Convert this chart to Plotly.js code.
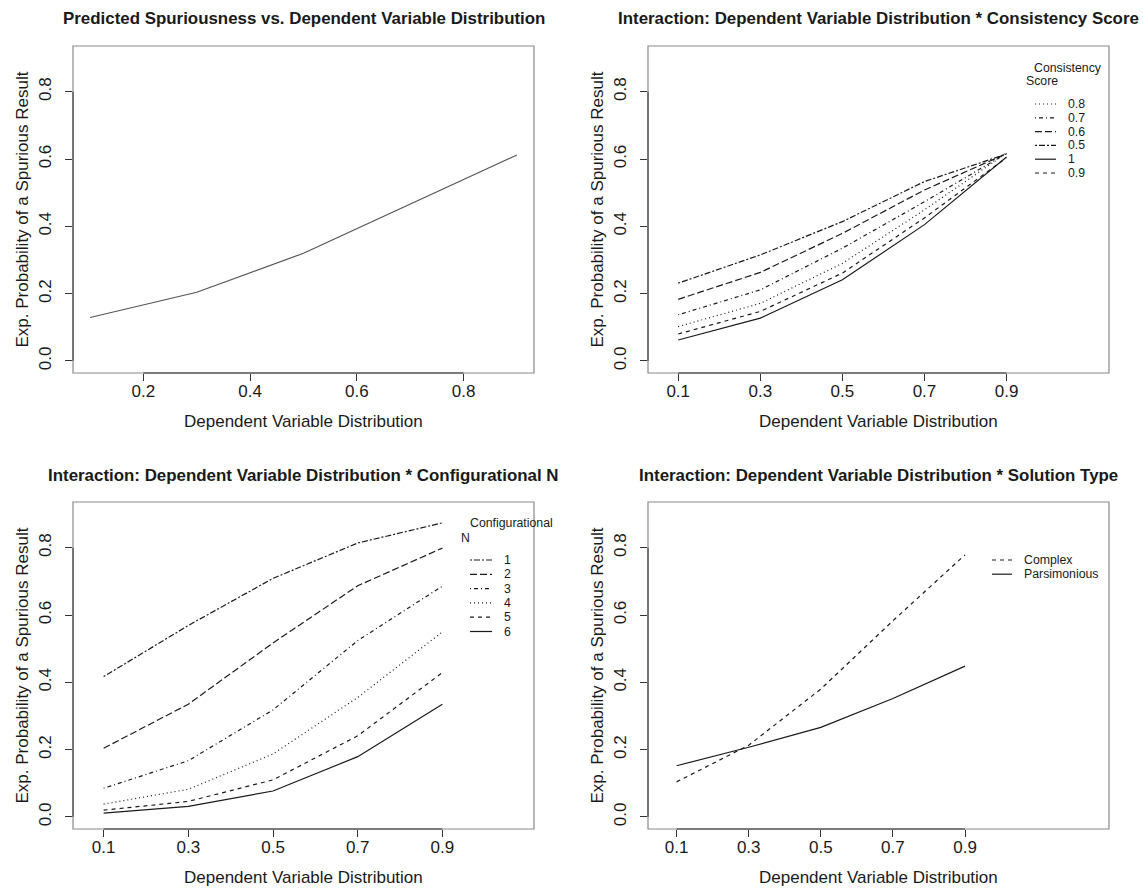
<!DOCTYPE html>
<html><head><meta charset="utf-8">
<script src="https://cdn.plot.ly/plotly-3.0.1.min.js"></script>
<style>html,body{margin:0;padding:0;background:#fff;} #chart{width:1143px;height:888px;}</style>
</head><body><div id="chart"></div>
<script>
// ---------------- DATA ----------------
const dvDist = [0.1, 0.3, 0.5, 0.7, 0.9];

// Panel 1: main effect
const mainEffect = [0.129, 0.204, 0.320, 0.466, 0.612];

// Panel 2: consistency score (legend order)
const consLabels = ['0.8', '0.7', '0.6', '0.5', '1', '0.9'];
const cons08 = [0.102, 0.171, 0.290, 0.449, 0.618];
const cons07 = [0.137, 0.211, 0.335, 0.473, 0.617];
const cons06 = [0.183, 0.263, 0.379, 0.508, 0.616];
const cons05 = [0.231, 0.315, 0.414, 0.533, 0.615];
const cons10 = [0.062, 0.127, 0.241, 0.405, 0.606];
const cons09 = [0.080, 0.147, 0.261, 0.425, 0.604];

// Panel 3: configurational N (legend order)
const confLabels = ['1', '2', '3', '4', '5', '6'];
const confN1 = [0.417, 0.569, 0.709, 0.814, 0.874];
const confN2 = [0.204, 0.335, 0.517, 0.687, 0.799];
const confN3 = [0.085, 0.167, 0.318, 0.524, 0.686];
const confN4 = [0.038, 0.082, 0.187, 0.355, 0.550];
const confN5 = [0.020, 0.046, 0.110, 0.241, 0.429];
const confN6 = [0.011, 0.031, 0.077, 0.179, 0.335];

// Panel 4: solution type
const solLabels = ['Complex', 'Parsimonious'];
const solComplex = [0.104, 0.213, 0.380, 0.583, 0.779];
const solPars = [0.152, 0.207, 0.266, 0.352, 0.448];

// Tick labels
const yTickVals = [0, 0.2, 0.4, 0.6, 0.8];
const yTickText = ['0.0', '0.2', '0.4', '0.6', '0.8'];
const x1TickVals = [0.2, 0.4, 0.6, 0.8];
const x1TickText = ['0.2', '0.4', '0.6', '0.8'];
const xTickVals = [0.1, 0.3, 0.5, 0.7, 0.9];
const xTickText = ['0.1', '0.3', '0.5', '0.7', '0.9'];

// Titles
const titles = [
  'Predicted Spuriousness vs. Dependent Variable Distribution',
  'Interaction: Dependent Variable Distribution * Consistency Score',
  'Interaction: Dependent Variable Distribution * Configurational N',
  'Interaction: Dependent Variable Distribution * Solution Type'
];
const xTitle = 'Dependent Variable Distribution';
const yTitle = 'Exp. Probability of a Spurious Result';

// ---------------- STYLE ----------------
const W = 1143, H = 888;
const FONT = 'Liberation Sans, Arial, Helvetica, sans-serif';
const INK = '#1a1a1a';
const LTY = {
  solid: 'solid',
  dashed: '4px,4px',
  dotted: '1px,3px',
  dotdash: '1px,3px,4px,3px',
  longdash: '7px,3px',
  twodash: '2px,2px,6px,2px'
};
const fx = p => p / W;
const fy = p => 1 - p / H;

// plot boxes in pixels [left, right, top, bottom]
const boxes = [
  [73, 534, 46, 373],
  [648, 1109, 46, 373],
  [73, 534, 502, 829],
  [648, 1109, 502, 829]
];
const xRanges = [[0.068, 0.932], [0.0264, 1.1496], [0.0277, 1.1163], [0.0206, 1.2994]];
const yRange = [-0.036, 0.936];

const consSeries = [cons08, cons07, cons06, cons05, cons10, cons09];
const consStyles = ['dotted', 'dotdash', 'longdash', 'twodash', 'solid', 'dashed'];
const confSeries = [confN1, confN2, confN3, confN4, confN5, confN6];
const confStyles = ['twodash', 'longdash', 'dotdash', 'dotted', 'dashed', 'solid'];
const solSeries = [solComplex, solPars];
const solStyles = ['dashed', 'solid'];

const traces = [];
traces.push({x: dvDist, y: mainEffect, xaxis: 'x', yaxis: 'y', mode: 'lines',
  line: {color: '#555', width: 1.2}, showlegend: false, hoverinfo: 'x+y'});
consSeries.forEach((s, i) => traces.push({x: dvDist, y: s, xaxis: 'x2', yaxis: 'y2', mode: 'lines',
  name: consLabels[i], line: {color: INK, width: 1.2, dash: LTY[consStyles[i]]}, showlegend: false}));
confSeries.forEach((s, i) => traces.push({x: dvDist, y: s, xaxis: 'x3', yaxis: 'y3', mode: 'lines',
  name: confLabels[i], line: {color: INK, width: 1.2, dash: LTY[confStyles[i]]}, showlegend: false}));
solSeries.forEach((s, i) => traces.push({x: dvDist, y: s, xaxis: 'x4', yaxis: 'y4', mode: 'lines',
  name: solLabels[i], line: {color: INK, width: 1.2, dash: LTY[solStyles[i]]}, showlegend: false}));

const layout = {
  width: W, height: H,
  margin: {l: 0, r: 0, t: 0, b: 0},
  paper_bgcolor: '#fff', plot_bgcolor: 'rgba(0,0,0,0)',
  font: {family: FONT, color: INK},
  showlegend: false,
  shapes: [], annotations: []
};

const axNames = ['', '2', '3', '4'];
boxes.forEach((b, i) => {
  const n = axNames[i];
  const xv = i === 0 ? x1TickVals : xTickVals;
  const xt = i === 0 ? x1TickText : xTickText;
  layout['xaxis' + n] = {
    domain: [fx(b[0]), fx(b[1])], range: xRanges[i], anchor: 'y' + n,
    tickmode: 'array', tickvals: xv, ticktext: xt,
    ticks: 'outside', ticklen: 7, tickcolor: '#333', tickwidth: 1,
    ticklabelstandoff: -4,
    showgrid: false, zeroline: false, showline: false,
    tickfont: {size: 17, family: FONT, color: INK}, fixedrange: true
  };
  layout['yaxis' + n] = {
    domain: [fy(b[3]), fy(b[2])], range: yRange, anchor: 'x' + n,
    tickmode: 'array', tickvals: yTickVals, ticktext: yTickText, tickangle: -90,
    ticks: 'outside', ticklen: 7, tickcolor: '#333', tickwidth: 1,
    ticklabelstandoff: 7,
    showgrid: false, zeroline: false, showline: false,
    tickfont: {size: 17, family: FONT, color: INK}, fixedrange: true
  };
  const xr = 'x' + n, yr = 'y' + n;
  // box
  layout.shapes.push({type: 'rect', xref: xr + ' domain', yref: yr + ' domain', x0: 0, x1: 1, y0: 0, y1: 1,
    line: {color: '#8a8a8a', width: 1.2}, layer: 'below'});
  // axis segments spanning ticks
  layout.shapes.push({type: 'line', xref: xr, yref: yr + ' domain', x0: xv[0], x1: xv[xv.length - 1], y0: 0, y1: 0,
    line: {color: '#333', width: 1}});
  layout.shapes.push({type: 'line', xref: xr + ' domain', yref: yr, x0: 0, x1: 0, y0: yTickVals[0], y1: yTickVals[yTickVals.length - 1],
    line: {color: '#333', width: 1}});
  // titles
  const cx = (b[0] + b[1]) / 2, cy = (b[2] + b[3]) / 2;
  layout.annotations.push({text: '<b>' + titles[i] + '</b>', xref: 'paper', yref: 'paper',
    x: fx(cx), y: fy(i < 2 ? 18 : 476), xanchor: 'center', yanchor: 'middle', showarrow: false,
    font: {size: 16.9, family: FONT, color: INK}});
  layout.annotations.push({text: xTitle, xref: 'paper', yref: 'paper',
    x: fx(cx), y: fy(b[3] + 48), xanchor: 'center', yanchor: 'middle', showarrow: false,
    font: {size: 17, family: FONT, color: INK}});
  layout.annotations.push({text: yTitle, xref: 'paper', yref: 'paper', textangle: -90,
    x: fx(b[0] - 51), y: fy(cy), xanchor: 'center', yanchor: 'middle', showarrow: false,
    font: {size: 17, family: FONT, color: INK}});
});

// manual legends (R style)
function legend(labels, styles, lx0, lx1, tx, ty0, dy, titleLines) {
  titleLines.forEach(t => layout.annotations.push({text: t.text, xref: 'paper', yref: 'paper',
    x: fx(t.x), y: fy(t.y), xanchor: 'left', yanchor: 'middle', showarrow: false,
    font: {size: 12.3, family: FONT, color: INK}}));
  labels.forEach((lab, i) => {
    const y = ty0 + i * dy;
    layout.shapes.push({type: 'line', xref: 'paper', yref: 'paper', x0: fx(lx0), x1: fx(lx1), y0: fy(y), y1: fy(y),
      line: {color: INK, width: 1.2, dash: LTY[styles[i]]}});
    layout.annotations.push({text: lab, xref: 'paper', yref: 'paper', x: fx(tx), y: fy(y),
      xanchor: 'left', yanchor: 'middle', showarrow: false, font: {size: 12.3, family: FONT, color: INK}});
  });
}
legend(consLabels, consStyles, 1035, 1056, 1066, 104, 13.8,
  [{text: 'Consistency', x: 1032, y: 68}, {text: 'Score', x: 1024, y: 81}]);
legend(confLabels, confStyles, 470, 492, 502, 560, 14.3,
  [{text: 'Configurational', x: 468, y: 523}, {text: 'N', x: 459, y: 538}]);
legend(solLabels, solStyles, 992, 1012, 1022, 560, 14.2, []);

Plotly.newPlot('chart', traces, layout, {displayModeBar: false, staticPlot: true});
</script></body></html>
